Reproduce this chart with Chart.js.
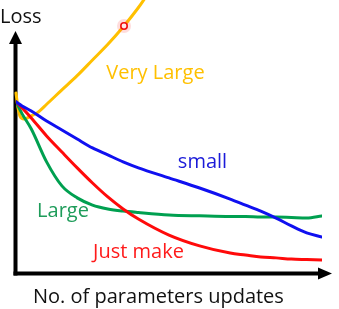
<!DOCTYPE html>
<html>
<head>
<meta charset="utf-8">
<script src="https://cdn.jsdelivr.net/npm/chart.js@4"></script>
<style>
  html, body { margin: 0; padding: 0; background: #fff; }
  #wrap { width: 339px; height: 309px; position: relative; }
</style>
</head>
<body>
<div id="wrap"><canvas id="c" width="339" height="309"></canvas></div>
<script>
// ---- data ----
const updates = [0, 2, 5, 10, 15, 20, 25, 30, 35, 40, 50, 60, 70, 75, 80, 85, 90, 95, 100];
const smallLoss = [71.3, 69.6, 67.5, 63.3, 59.6, 55.8, 52.1, 49.2, 46.3, 43.8, 39.6, 35.4, 30.8, 28.3, 25.8, 22.9, 19.6, 16.7, 15.0];
const largeLoss = [71.3, 66.3, 60.0, 46.3, 36.3, 31.3, 28.3, 26.7, 25.8, 25.2, 24.2, 23.8, 23.5, 23.5, 23.3, 23.3, 23.1, 22.9, 23.8];
const justMakeLoss = [71.3, 68.8, 64.6, 57.1, 50.4, 43.8, 37.5, 31.7, 26.7, 22.5, 15.8, 11.3, 8.3, 7.5, 6.7, 6.3, 5.8, 5.6, 5.4];
const veryLargeUpdates = [0, 0.65, 1.3, 2.6, 4.9, 6.9, 10.1, 15, 19.9, 25, 30.1, 35, 39.9, 42.2];
const veryLargeLoss = [75, 68.8, 65.4, 64.2, 65.4, 66.7, 70.4, 76.3, 82.1, 88.75, 95.4, 102.5, 110.4, 114.6];
const markerPoint = [35.3, 102.9];
const seriesNames = ['Very Large', 'small', 'Large', 'Just make'];
const axisTitles = ['Loss', 'No. of parameters updates'];

const pts = (xs, ys) => xs.map((x, i) => ({ x: x, y: ys[i] }));

const FONT = '20px "Open Sans"';

// label anchors (data units: left edge, baseline)
const seriesLabels = [
  { text: seriesNames[0], x: 29.5, y: 80.8, color: '#FFC000' },
  { text: seriesNames[1], x: 52.9, y: 43.8, color: '#1A1AD9' },
  { text: seriesNames[2], x: 6.9, y: 23.3, color: '#1E9C5A' },
  { text: seriesNames[3], x: 25.2, y: 6.25, color: '#FF1A1A' }
];

const decorPlugin = {
  id: 'decor',
  beforeDatasetsDraw(chart) {
    const ctx = chart.ctx;
    const a = chart.chartArea;
    const ax = a.left - 0.5;
    const ay = a.bottom + 0.5;
    const tipY = a.top + 11;
    ctx.save();
    ctx.strokeStyle = '#000';
    ctx.fillStyle = '#000';
    ctx.lineWidth = 4;
    ctx.lineCap = 'butt';
    // y axis
    ctx.beginPath();
    ctx.moveTo(ax, ay + 2);
    ctx.lineTo(ax, tipY + 12);
    ctx.stroke();
    ctx.beginPath();
    ctx.moveTo(ax, tipY);
    ctx.lineTo(ax - 6.5, tipY + 13);
    ctx.lineTo(ax + 6.5, tipY + 13);
    ctx.closePath();
    ctx.fill();
    // x axis
    ctx.beginPath();
    ctx.moveTo(ax - 2, ay);
    ctx.lineTo(a.right - 2, ay);
    ctx.stroke();
    ctx.beginPath();
    ctx.moveTo(a.right + 10, ay);
    ctx.lineTo(a.right - 4, ay - 6);
    ctx.lineTo(a.right - 4, ay + 6);
    ctx.closePath();
    ctx.fill();
    ctx.restore();
  },
  afterDatasetsDraw(chart) {
    const ctx = chart.ctx;
    const a = chart.chartArea;
    const xs = chart.scales.x, ys = chart.scales.y;
    ctx.save();
    ctx.font = FONT;
    ctx.textBaseline = 'alphabetic';
    ctx.textAlign = 'left';
    seriesLabels.forEach(l => {
      ctx.fillStyle = l.color;
      ctx.fillText(l.text, xs.getPixelForValue(l.x), ys.getPixelForValue(l.y));
    });
    ctx.fillStyle = '#111';
    ctx.fillText(axisTitles[0], a.left - 16, a.top + 3);
    ctx.fillText(axisTitles[1], a.left + 17, a.bottom + 30);
    ctx.restore();
  }
};

new Chart(document.getElementById('c'), {
  type: 'line',
  data: {
    datasets: [
      { label: 'marker', data: [{ x: markerPoint[0], y: markerPoint[1] }], showLine: false,
        pointRadius: 3.2, pointBorderWidth: 1.6, pointBorderColor: '#F01010', pointBackgroundColor: '#FFE8E8', clip: false },
      { label: 'glow', data: [{ x: markerPoint[0], y: markerPoint[1] }], showLine: false,
        pointRadius: 7, pointBorderWidth: 0, pointBorderColor: 'rgba(0,0,0,0)', pointBackgroundColor: 'rgba(255,60,60,0.18)', clip: false },
      { label: seriesNames[1], data: pts(updates, smallLoss), borderColor: '#1010F0', borderWidth: 3 },
      { label: seriesNames[3], data: pts(updates, justMakeLoss), borderColor: '#FF0A0A', borderWidth: 3 },
      { label: seriesNames[2], data: pts(updates, largeLoss), borderColor: '#00A050', borderWidth: 3 },
      { label: seriesNames[0], data: pts(veryLargeUpdates, veryLargeLoss), borderColor: '#FFC000', borderWidth: 3, clip: false }
    ]
  },
  options: {
    responsive: false,
    animation: false,
    layout: { padding: { left: 16, right: 17, top: 20, bottom: 36 } },
    elements: {
      line: { cubicInterpolationMode: 'monotone', fill: false, borderCapStyle: 'round', borderJoinStyle: 'round' },
      point: { radius: 0 }
    },
    scales: {
      x: { type: 'linear', min: 0, max: 100, display: false },
      y: { type: 'linear', min: 0, max: 105.4, display: false }
    },
    plugins: {
      legend: { display: false },
      tooltip: { enabled: false },
      title: { display: false }
    }
  },
  plugins: [decorPlugin]
});
</script>
</body>
</html>
